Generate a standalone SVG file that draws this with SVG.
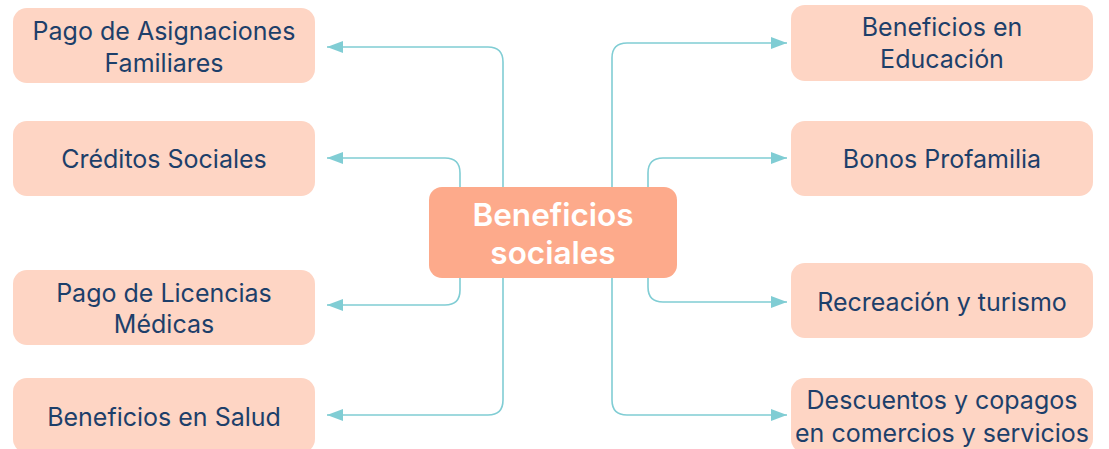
<svg xmlns="http://www.w3.org/2000/svg" width="1109" height="449" viewBox="0 0 1109 449">
<defs>
<style>
.box{fill:#fed5c4;}
.center{fill:#fdaa8b;}
.t{font-family:Inter,"Open Sans","Liberation Sans",sans-serif;font-size:25px;fill:#1d3f6a;text-anchor:middle;}
.ct{font-family:Inter,"Open Sans","Liberation Sans",sans-serif;font-size:31.5px;font-weight:600;fill:#ffffff;text-anchor:middle;}
.c{fill:none;stroke:#80cdd4;stroke-width:1.6;marker-end:url(#arr);}
</style>
<marker id="arr" markerUnits="userSpaceOnUse" markerWidth="16" markerHeight="12" refX="16" refY="6" orient="auto">
<path d="M0,0 L16,6 L0,12 z" fill="#80cdd4"/>
</marker>
</defs>
<rect width="1109" height="449" fill="#ffffff"/>
<g id="connectors">
<path class="c" d="M503,220 V62 Q503,47 488,47 H327"/>
<path class="c" d="M460,220 V173 Q460,158 445,158 H327"/>
<path class="c" d="M460,240 V290 Q460,305 445,305 H327"/>
<path class="c" d="M503,240 V400 Q503,415 488,415 H327"/>
<path class="c" d="M612,220 V58 Q612,43 627,43 H787"/>
<path class="c" d="M648,220 V173 Q648,158 663,158 H787"/>
<path class="c" d="M648,240 V287 Q648,302 663,302 H787"/>
<path class="c" d="M612,240 V400 Q612,415 627,415 H787"/>
</g>
<g id="center">
<rect class="center" x="429" y="187" width="248" height="91" rx="13"/>
<text class="ct" x="553" y="226">Beneficios</text>
<text class="ct" x="553" y="264">sociales</text>
</g>
<g id="l1">
<rect class="box" x="13" y="8" width="302" height="75" rx="14"/>
<text class="t" x="164" y="40">Pago de Asignaciones</text>
<text class="t" x="164" y="72">Familiares</text>
</g>
<g id="l2">
<rect class="box" x="13" y="121" width="302" height="75" rx="14"/>
<text class="t" x="164" y="168">Créditos Sociales</text>
</g>
<g id="l3">
<rect class="box" x="13" y="270" width="302" height="75" rx="14"/>
<text class="t" x="164" y="302">Pago de Licencias</text>
<text class="t" x="164" y="333">Médicas</text>
</g>
<g id="l4">
<rect class="box" x="13" y="378" width="302" height="75" rx="14"/>
<text class="t" x="164" y="426">Beneficios en Salud</text>
</g>
<g id="r1">
<rect class="box" x="791" y="5" width="302" height="76" rx="14"/>
<text class="t" x="942" y="36">Beneficios en</text>
<text class="t" x="942" y="68">Educación</text>
</g>
<g id="r2">
<rect class="box" x="791" y="121" width="302" height="75" rx="14"/>
<text class="t" x="942" y="168">Bonos Profamilia</text>
</g>
<g id="r3">
<rect class="box" x="791" y="263" width="302" height="75" rx="14"/>
<text class="t" x="942" y="311">Recreación y turismo</text>
</g>
<g id="r4">
<rect class="box" x="791" y="378" width="302" height="75" rx="14"/>
<text class="t" x="942" y="409">Descuentos y copagos</text>
<text class="t" x="942" y="442">en comercios y servicios</text>
</g>
</svg>
